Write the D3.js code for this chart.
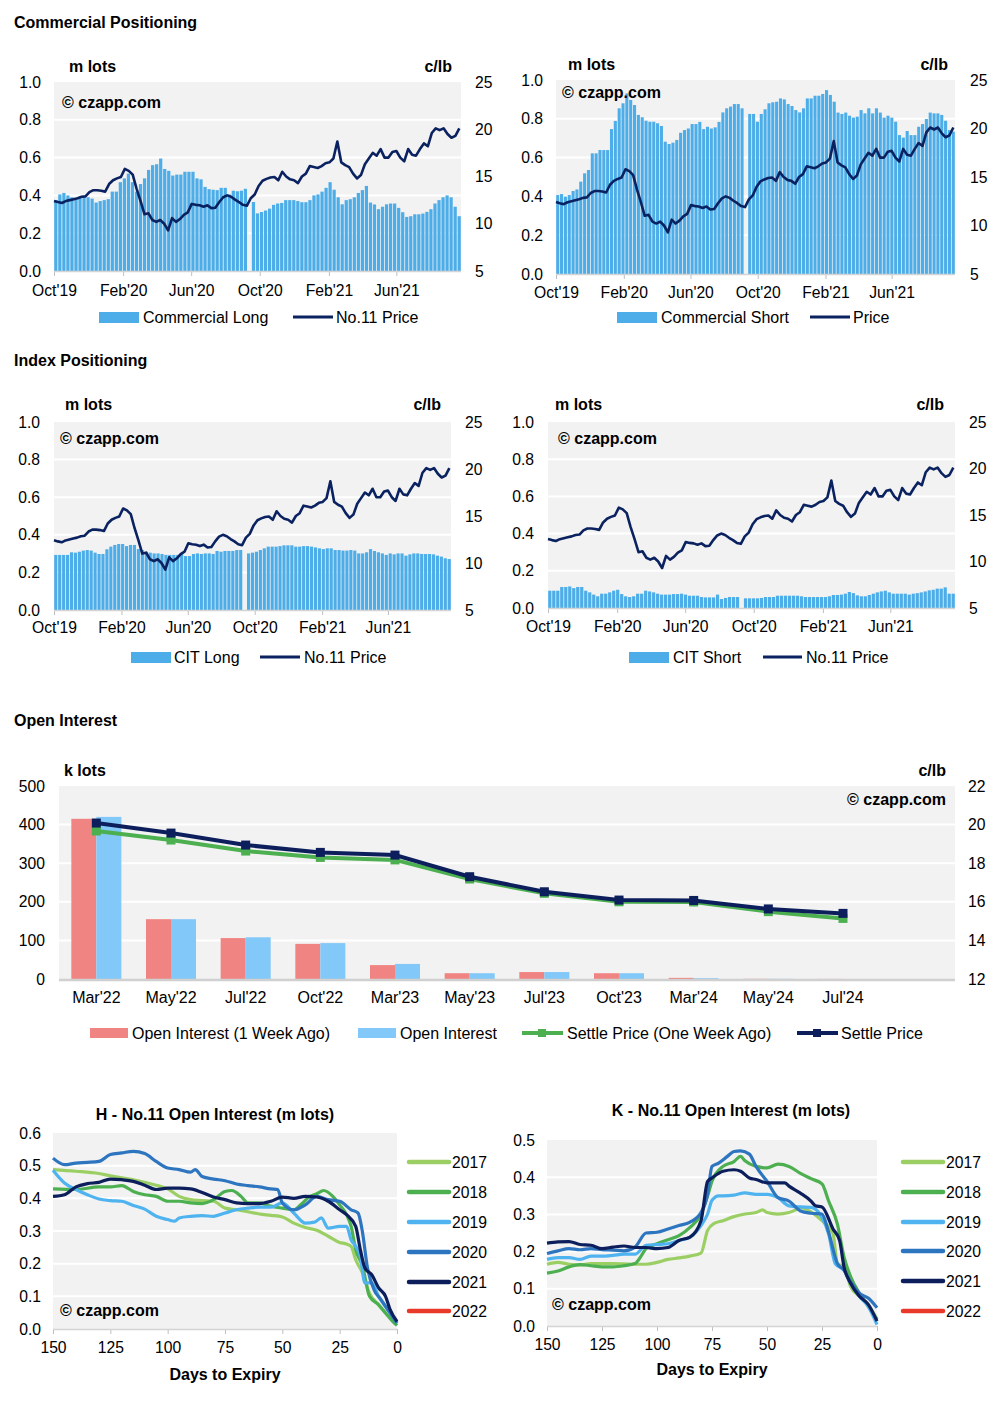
<!DOCTYPE html>
<html><head><meta charset="utf-8">
<script src="https://cdn.jsdelivr.net/npm/d3@7"></script>
<style>
body{margin:0;background:#fff;}
svg{display:block;font-family:"Liberation Sans",Arial,sans-serif;}
</style></head><body>
<svg id="c" width="1002" height="1402"></svg>
<script>
// ---------------- DATA ----------------
const posTickLabels = ["Oct'19","Feb'20","Jun'20","Oct'20","Feb'21","Jun'21"];
const posTickDates = ["2019-10-01","2020-02-01","2020-06-01","2020-10-01","2021-02-01","2021-06-01"];
const posDomain = ["2019-10-01","2021-09-24"];
const priceStart = "2019-10-01"; // weekly observations
const price = [12.42,12.3,12.2,12.4,12.5,12.6,12.7,12.85,12.9,13.35,13.55,13.55,13.5,13.4,14.2,14.6,14.8,14.95,15.8,15.6,
  15.2,13.7,12.4,11.0,11.1,10.4,10.2,10.4,10.0,9.3,10.6,10.2,10.5,10.95,11.2,12.1,12.0,11.95,11.8,11.95,
  11.65,11.7,12.3,12.8,13.0,12.85,12.55,12.3,12.0,11.9,12.7,13.1,14.0,14.55,14.75,14.9,14.95,14.6,15.5,15.0,
  14.7,14.6,14.3,15.0,15.3,16.1,16.0,15.9,16.1,16.4,16.5,16.9,18.7,16.5,16.2,16.0,15.3,14.8,15.15,16.3,
  16.9,17.5,17.2,17.9,17.0,17.0,17.6,17.7,17.0,16.6,17.9,17.3,17.2,17.9,18.5,18.2,19.6,20.1,19.9,20.1,
  19.5,19.1,19.3,20.1];
const commercialLong = [0.375,0.405,0.413,0.40,0.39,0.387,0.39,0.39,0.39,0.383,0.362,0.37,0.375,0.38,0.42,0.42,0.47,0.49,0.515,0.47,
  0.42,0.46,0.49,0.535,0.56,0.565,0.595,0.54,0.53,0.505,0.51,0.51,0.525,0.525,0.525,0.49,0.485,0.445,0.433,0.43,
  0.428,0.44,0.44,0.405,0.425,0.422,0.425,0.435,null,
  0.365,0.305,0.312,0.32,0.33,0.35,0.357,0.36,0.375,0.375,0.375,0.37,0.364,0.364,0.375,0.4,0.405,0.42,0.44,0.47,
  0.43,0.39,0.353,0.375,0.38,0.39,0.413,0.428,0.45,0.362,0.352,0.327,0.34,0.353,0.357,0.357,0.334,0.311,0.286,0.29,
  0.30,0.30,0.304,0.313,0.327,0.357,0.375,0.39,0.40,0.39,0.34,0.29];
const commercialShort = [0.407,0.412,0.399,0.407,0.428,0.436,0.476,0.519,0.536,0.622,0.622,0.639,0.639,0.639,0.747,0.789,0.854,0.88,0.931,0.897,
  0.871,0.82,0.808,0.79,0.785,0.785,0.777,0.763,0.682,0.67,0.677,0.691,0.728,0.742,0.75,0.773,0.773,0.784,0.747,0.759,
  0.75,0.756,0.784,0.833,0.854,0.863,0.876,0.876,0.854,null,
  0.825,0.825,0.785,0.825,0.849,0.88,0.885,0.888,0.905,0.9,0.876,0.866,0.845,0.833,0.854,0.905,0.905,0.919,0.919,0.928,
  0.948,0.923,0.888,0.832,0.825,0.832,0.816,0.806,0.811,0.845,0.828,0.854,0.828,0.854,0.832,0.806,0.816,0.806,0.785,0.716,
  0.703,0.737,0.716,0.716,0.759,0.773,0.799,0.832,0.828,0.828,0.82,0.79,0.742,0.734];
const citLong = [0.293,0.293,0.293,0.293,0.307,0.305,0.31,0.316,0.319,0.316,0.305,0.298,0.298,0.323,0.337,0.346,0.351,0.351,0.34,0.346,
  0.346,0.324,0.319,0.31,0.305,0.301,0.301,0.298,0.293,0.293,0.293,0.293,0.298,0.287,0.287,0.298,0.301,0.298,0.301,0.301,
  0.298,0.314,0.31,0.314,0.314,0.314,0.319,0.319,null,
  0.301,0.305,0.31,0.319,0.328,0.337,0.337,0.337,0.34,0.344,0.344,0.344,0.337,0.337,0.34,0.34,0.337,0.333,0.328,0.324,
  0.328,0.328,0.319,0.319,0.316,0.316,0.319,0.316,0.301,0.301,0.307,0.324,0.314,0.307,0.301,0.293,0.301,0.296,0.301,0.301,
  0.289,0.296,0.301,0.301,0.298,0.298,0.298,0.296,0.289,0.284,0.275,0.271];
const citShort = [0.093,0.093,0.093,0.113,0.113,0.116,0.107,0.113,0.113,0.093,0.084,0.072,0.063,0.077,0.077,0.084,0.093,0.098,0.075,0.063,
  0.059,0.063,0.077,0.077,0.093,0.089,0.084,0.077,0.072,0.072,0.072,0.075,0.075,0.077,0.072,0.066,0.066,0.066,0.059,0.057,
  0.057,0.057,0.072,0.048,0.054,0.059,0.059,0.059,null,
  0.052,0.052,0.052,0.052,0.054,0.059,0.059,0.059,0.066,0.066,0.066,0.066,0.066,0.066,0.063,0.059,0.059,0.059,0.059,0.059,
  0.059,0.063,0.07,0.07,0.072,0.077,0.086,0.08,0.068,0.063,0.063,0.07,0.077,0.084,0.089,0.093,0.084,0.077,0.077,0.077,
  0.077,0.072,0.077,0.08,0.084,0.089,0.095,0.098,0.104,0.104,0.111,0.077,0.077];

const oiCategories = ["Mar'22","May'22","Jul'22","Oct'22","Mar'23","May'23","Jul'23","Oct'23","Mar'24","May'24","Jul'24"];
const oiWeekAgo = [415,155,106,91,36,15,18,15,3,0.5,0.2];
const oiNow = [420,155,108,93,39,15,18,15,2,0.5,0];
const settleWeekAgo = [19.67,19.2,18.63,18.3,18.17,17.18,16.44,16.0,15.99,15.49,15.14];
const settleNow = [20.08,19.56,18.94,18.56,18.42,17.3,16.52,16.09,16.07,15.63,15.4];

const years = ["2017","2018","2019","2020","2021","2022"];
const yearColors = ["#9bcf63","#4caf50","#4fb3ef","#2e75c0","#0c1f5c","#e8392a"];
const h2017 = [[150,0.488],[140,0.483],[130,0.476],[125,0.469],[115,0.457],[105,0.44],[100,0.429],[95,0.406],[90,0.396],[85,0.393],[80,0.391],[75,0.37],[70,0.365],[65,0.359],[60,0.352],[55,0.348],[50,0.343],[45,0.324],[40,0.311],[35,0.302],[30,0.284],[25,0.265],[22,0.26],[20,0.253],[18,0.212],[15,0.171],[12,0.11],[8,0.074],[5,0.049],[2,0.029],[0,0.011]];
const h2018 = [[150,0.429],[140,0.427],[130,0.435],[125,0.435],[120,0.439],[115,0.421],[110,0.411],[105,0.406],[100,0.391],[95,0.391],[90,0.386],[85,0.384],[80,0.396],[75,0.421],[72,0.424],[68,0.406],[65,0.386],[60,0.386],[55,0.376],[50,0.37],[45,0.365],[42,0.38],[38,0.406],[35,0.414],[32,0.424],[28,0.406],[25,0.38],[22,0.35],[20,0.314],[18,0.243],[15,0.192],[12,0.1],[8,0.074],[5,0.049],[2,0.024],[0,0.011]];
const h2019 = [[150,0.486],[145,0.447],[140,0.427],[135,0.411],[130,0.398],[125,0.393],[120,0.391],[115,0.378],[110,0.367],[105,0.345],[100,0.335],[97,0.33],[95,0.34],[90,0.345],[85,0.347],[80,0.345],[75,0.355],[70,0.365],[65,0.37],[60,0.373],[55,0.373],[50,0.386],[45,0.355],[40,0.324],[36,0.327],[33,0.34],[30,0.309],[25,0.314],[22,0.314],[20,0.273],[18,0.253],[16,0.222],[14,0.141],[11,0.141],[8,0.1],[5,0.069],[2,0.039],[0,0.02]];
const h2020 = [[150,0.523],[145,0.503],[140,0.508],[135,0.51],[130,0.513],[125,0.534],[120,0.539],[115,0.544],[110,0.537],[105,0.513],[100,0.493],[95,0.488],[90,0.48],[88,0.488],[85,0.467],[80,0.459],[75,0.454],[70,0.444],[65,0.439],[60,0.435],[55,0.429],[52,0.427],[50,0.386],[45,0.365],[40,0.38],[35,0.406],[30,0.396],[25,0.391],[20,0.365],[17,0.355],[15,0.294],[13,0.192],[10,0.12],[7,0.09],[4,0.059],[2,0.039],[0,0.018]];
const h2021 = [[150,0.406],[145,0.411],[140,0.435],[135,0.445],[130,0.449],[125,0.459],[120,0.457],[115,0.452],[110,0.44],[105,0.427],[100,0.431],[95,0.431],[90,0.429],[85,0.418],[80,0.404],[75,0.396],[70,0.386],[65,0.384],[60,0.384],[55,0.391],[50,0.404],[45,0.4],[40,0.406],[35,0.404],[30,0.391],[25,0.365],[22,0.35],[18,0.314],[16,0.243],[14,0.187],[11,0.166],[8,0.126],[5,0.1],[3,0.059],[0,0.023]];
const k2017 = [[150,0.166],[145,0.171],[140,0.166],[135,0.164],[130,0.168],[120,0.168],[110,0.166],[105,0.166],[100,0.171],[95,0.179],[90,0.183],[85,0.188],[80,0.196],[77,0.257],[74,0.276],[70,0.283],[65,0.294],[60,0.301],[55,0.305],[52,0.312],[50,0.305],[45,0.301],[40,0.305],[37,0.312],[35,0.319],[30,0.307],[25,0.283],[20,0.248],[18,0.168],[15,0.159],[12,0.106],[8,0.08],[4,0.058],[0,0.018]];
const k2018 = [[150,0.142],[145,0.148],[140,0.159],[135,0.165],[130,0.162],[125,0.159],[120,0.159],[115,0.162],[110,0.168],[107,0.19],[105,0.208],[100,0.221],[95,0.232],[90,0.243],[85,0.265],[80,0.301],[77,0.35],[75,0.389],[70,0.429],[65,0.442],[62,0.456],[60,0.444],[55,0.429],[50,0.425],[45,0.435],[40,0.429],[35,0.411],[30,0.396],[25,0.382],[22,0.336],[18,0.274],[15,0.186],[12,0.133],[8,0.088],[4,0.053],[0,0.018]];
const k2019 = [[150,0.179],[145,0.184],[140,0.184],[135,0.179],[130,0.188],[125,0.188],[120,0.19],[115,0.193],[110,0.193],[105,0.217],[100,0.219],[95,0.221],[90,0.23],[85,0.239],[80,0.27],[77,0.301],[75,0.338],[72,0.35],[70,0.35],[65,0.352],[60,0.358],[55,0.354],[50,0.354],[45,0.345],[40,0.323],[35,0.32],[30,0.319],[25,0.292],[22,0.248],[19,0.168],[15,0.15],[12,0.115],[8,0.08],[4,0.053],[0,0.004]];
const k2020 = [[150,0.195],[145,0.202],[140,0.208],[135,0.205],[130,0.208],[125,0.205],[120,0.204],[115,0.202],[110,0.212],[105,0.25],[100,0.252],[95,0.261],[90,0.27],[85,0.279],[80,0.305],[77,0.354],[75,0.429],[72,0.438],[68,0.456],[65,0.469],[62,0.471],[58,0.462],[55,0.429],[50,0.389],[45,0.345],[40,0.336],[35,0.31],[30,0.303],[25,0.301],[22,0.252],[18,0.168],[15,0.15],[12,0.119],[8,0.088],[4,0.075],[0,0.049]];
const k2021 = [[150,0.223],[145,0.226],[140,0.227],[135,0.219],[130,0.217],[125,0.208],[120,0.212],[115,0.215],[110,0.211],[105,0.211],[100,0.208],[95,0.211],[90,0.23],[85,0.239],[80,0.283],[77,0.389],[75,0.398],[70,0.416],[65,0.42],[62,0.416],[58,0.398],[55,0.394],[50,0.385],[45,0.385],[42,0.385],[40,0.376],[35,0.358],[30,0.336],[28,0.323],[25,0.32],[20,0.261],[17,0.23],[15,0.159],[12,0.115],[8,0.08],[4,0.058],[0,0.013]];

// ---------------- STYLE ----------------
const BG = "#f2f2f2", BAR = "#4dade8", NAVY = "#0b2260", AXIS = "#d4d4d4", TXT = "#000";
const FS = 15.7;
const LFS = 16;
const svg = d3.select("#c");
const parse = d3.timeParse("%Y-%m-%d");

function text(g, x, y, s, o = {}) {
  return g.append("text").attr("x", x).attr("y", y).text(s)
    .attr("font-size", o.size || FS).attr("font-weight", o.bold ? "bold" : "normal")
    .attr("text-anchor", o.anchor || "start").attr("fill", o.fill || TXT);
}
function styleAxis(sel, size) {
  sel.selectAll("text").attr("font-size", size || FS).attr("fill", TXT)
    .attr("font-family", '"Liberation Sans",Arial,sans-serif');
  sel.selectAll("line").attr("stroke", "#bfbfbf");
  sel.select(".domain").remove();
}

// section titles
text(svg, 14, 28, "Commercial Positioning", { bold: true, size: 16 });
text(svg, 14, 366, "Index Positioning", { bold: true, size: 16 });
text(svg, 14, 726, "Open Interest", { bold: true, size: 16 });

// ---------------- POSITIONING PANELS ----------------
const priceDates = price.map((v, i) => d3.timeDay.offset(parse(priceStart), 7 * i));

function positioning(o) {
  const g = svg.append("g");
  const x = d3.scaleTime().domain(posDomain.map(parse)).range([o.left, o.right]);
  const y = d3.scaleLinear().domain([0, 1]).range([o.bottom, o.top]);
  const y2 = d3.scaleLinear().domain([5, 25]).range([o.bottom, o.top]);
  const xb = d3.scaleBand().domain(d3.range(o.bars.length)).range([o.left, o.right]).paddingInner(0.2).paddingOuter(0.05);

  g.append("rect").attr("x", o.left).attr("y", o.top).attr("width", o.right - o.left)
    .attr("height", o.bottom - o.top).attr("fill", BG);
  g.selectAll(".grid").data([0.2, 0.4, 0.6, 0.8]).join("line")
    .attr("x1", o.left).attr("x2", o.right).attr("y1", d => y(d)).attr("y2", d => y(d))
    .attr("stroke", "#fff").attr("stroke-width", 2);

  g.selectAll(".bar").data(o.bars.map((v, i) => ({ v, i })).filter(d => d.v != null)).join("rect")
    .attr("x", d => xb(d.i)).attr("width", xb.bandwidth())
    .attr("y", d => y(d.v)).attr("height", d => y(0) - y(d.v)).attr("fill", BAR);

  const la = g.append("g").attr("transform", `translate(${o.leftLabelX},0)`)
    .call(d3.axisLeft(y).tickValues([0, 0.2, 0.4, 0.6, 0.8, 1]).tickFormat(d3.format(".1f")).tickSize(0).tickPadding(0));
  styleAxis(la);
  const ra = g.append("g").attr("transform", `translate(${o.rightLabelX},0)`)
    .call(d3.axisRight(y2).tickValues([5, 10, 15, 20, 25]).tickSize(0).tickPadding(0));
  styleAxis(ra);
  const ba = g.append("g").attr("transform", `translate(0,${o.bottom})`)
    .call(d3.axisBottom(x).tickValues(posTickDates.map(parse)).tickFormat((d, i) => posTickLabels[i]).tickSize(5));
  styleAxis(ba);
  ba.selectAll("text").attr("y", o.tickBaseline - o.bottom).attr("dy", 0);
  g.append("line").attr("x1", o.left).attr("x2", o.right).attr("y1", o.bottom + 0.5).attr("y2", o.bottom + 0.5)
    .attr("stroke", AXIS).attr("stroke-width", 1.5);

  const line = d3.line().x((d, i) => x(priceDates[i])).y(d => y2(d));
  g.append("path").datum(price).attr("d", line).attr("fill", "none")
    .attr("stroke", NAVY).attr("stroke-width", 2.6).attr("stroke-linejoin", "round");

  text(g, o.mlots[0], o.mlots[1], "m lots", { bold: true, size: 16 });
  text(g, o.clb[0], o.clb[1], "c/lb", { bold: true, anchor: "end", size: 16 });
  text(g, o.wm[0], o.wm[1], "© czapp.com", { bold: true, size: 16 });

  const L = o.legend, ly = o.legendY;
  g.append("rect").attr("x", L.sw[0]).attr("y", ly - 5).attr("width", L.sw[1] - L.sw[0]).attr("height", 11).attr("fill", BAR);
  text(g, L.t1x, ly + 5.5, L.t1, { size: LFS });
  g.append("line").attr("x1", L.l[0]).attr("x2", L.l[1]).attr("y1", ly).attr("y2", ly).attr("stroke", NAVY).attr("stroke-width", 3);
  text(g, L.t2x, ly + 5.5, L.t2, { size: LFS });
}

positioning({ left: 54, right: 461, top: 82, bottom: 271, bars: commercialLong, leftLabelX: 41, rightLabelX: 475,
  mlots: [69, 72], clb: [452, 72], wm: [62, 108], tickBaseline: 296, legendY: 317,
  legend: { sw: [99, 139], t1x: 143, t1: "Commercial Long", l: [293, 333], t2x: 336, t2: "No.11 Price" } });
positioning({ left: 556, right: 955, top: 80, bottom: 274, bars: commercialShort, leftLabelX: 543, rightLabelX: 970,
  mlots: [568, 70], clb: [948, 70], wm: [562, 98], tickBaseline: 298, legendY: 317,
  legend: { sw: [617, 657], t1x: 661, t1: "Commercial Short", l: [810, 850], t2x: 853, t2: "Price" } });
positioning({ left: 54, right: 451, top: 422, bottom: 610, bars: citLong, leftLabelX: 40, rightLabelX: 465,
  mlots: [65, 410], clb: [441, 410], wm: [60, 444], tickBaseline: 633, legendY: 657,
  legend: { sw: [131, 171], t1x: 174, t1: "CIT Long", l: [260, 300], t2x: 304, t2: "No.11 Price" } });
positioning({ left: 548, right: 955, top: 422, bottom: 608, bars: citShort, leftLabelX: 534, rightLabelX: 969,
  mlots: [555, 410], clb: [944, 410], wm: [558, 444], tickBaseline: 632, legendY: 657,
  legend: { sw: [629, 669], t1x: 673, t1: "CIT Short", l: [763, 802], t2x: 806, t2: "No.11 Price" } });

// ---------------- OPEN INTEREST ----------------
(function () {
  const g = svg.append("g");
  const L = 59, R = 955, T = 786, B = 979;
  const slots = oiCategories.concat([""]);
  const x = d3.scaleBand().domain(slots).range([L, R]);
  const bw = x.bandwidth();
  const xs = d3.scaleBand().domain(["prev", "now"]).range([bw * 0.165, bw * 0.835]);
  const y = d3.scaleLinear().domain([0, 500]).range([B, T]);
  const y2 = d3.scaleLinear().domain([12, 22]).range([B, T]);

  g.append("rect").attr("x", L).attr("y", T).attr("width", R - L).attr("height", B - T).attr("fill", BG);
  g.selectAll(".grid").data([100, 200, 300, 400]).join("line")
    .attr("x1", L).attr("x2", R).attr("y1", d => y(d)).attr("y2", d => y(d)).attr("stroke", "#fff").attr("stroke-width", 2);

  g.selectAll(".b1").data(oiCategories).join("rect")
    .attr("x", d => x(d) + xs("prev")).attr("width", xs.bandwidth())
    .attr("y", (d, i) => y(oiWeekAgo[i])).attr("height", (d, i) => B - y(oiWeekAgo[i])).attr("fill", "#f08482");
  g.selectAll(".b2").data(oiCategories).join("rect")
    .attr("x", d => x(d) + xs("now")).attr("width", xs.bandwidth())
    .attr("y", (d, i) => y(oiNow[i])).attr("height", (d, i) => B - y(oiNow[i])).attr("fill", "#82c8f8");

  g.append("line").attr("x1", L).attr("x2", R).attr("y1", B + 1).attr("y2", B + 1).attr("stroke", "#d0d0d0").attr("stroke-width", 2.5);

  const la = g.append("g").attr("transform", "translate(45,0)")
    .call(d3.axisLeft(y).tickValues([0, 100, 200, 300, 400, 500]).tickSize(0).tickPadding(0));
  styleAxis(la);
  const ra = g.append("g").attr("transform", "translate(968,0)")
    .call(d3.axisRight(y2).tickValues([12, 14, 16, 18, 20, 22]).tickSize(0).tickPadding(0));
  styleAxis(ra);
  const ba = g.append("g").attr("transform", `translate(0,${B})`)
    .call(d3.axisBottom(x).tickValues(oiCategories).tickSize(0));
  styleAxis(ba, 16);
  ba.selectAll("text").attr("y", 24).attr("dy", 0);

  const cx = d => x(d) + bw / 2;
  function series(vals, color) {
    const ln = d3.line().x((d, i) => cx(oiCategories[i])).y(d => y2(d));
    g.append("path").datum(vals).attr("d", ln).attr("fill", "none").attr("stroke", color).attr("stroke-width", 4);
    g.selectAll(null).data(vals).join("rect")
      .attr("x", (d, i) => cx(oiCategories[i]) - 4.5).attr("y", d => y2(d) - 4.5)
      .attr("width", 9).attr("height", 9).attr("fill", color);
  }
  series(settleWeekAgo, "#4caf50");
  series(settleNow, "#0c1f5c");

  text(g, 64, 776, "k lots", { bold: true, size: 16 });
  text(g, 946, 776, "c/lb", { bold: true, anchor: "end", size: 16 });
  text(g, 946, 805, "© czapp.com", { bold: true, size: 16, anchor: "end" });

  const ly = 1033;
  g.append("rect").attr("x", 90).attr("y", ly - 5).attr("width", 38).attr("height", 10).attr("fill", "#f08482");
  text(g, 132, ly + 5.5, "Open Interest (1 Week Ago)", { size: LFS });
  g.append("rect").attr("x", 358).attr("y", ly - 5).attr("width", 38).attr("height", 10).attr("fill", "#82c8f8");
  text(g, 400, ly + 5.5, "Open Interest", { size: LFS });
  g.append("line").attr("x1", 522).attr("x2", 563).attr("y1", ly).attr("y2", ly).attr("stroke", "#4caf50").attr("stroke-width", 4);
  g.append("rect").attr("x", 538).attr("y", ly - 4).attr("width", 8).attr("height", 8).attr("fill", "#4caf50");
  text(g, 567, ly + 5.5, "Settle Price (One Week Ago)", { size: LFS });
  g.append("line").attr("x1", 797).attr("x2", 838).attr("y1", ly).attr("y2", ly).attr("stroke", "#0c1f5c").attr("stroke-width", 4);
  g.append("rect").attr("x", 813).attr("y", ly - 4).attr("width", 8).attr("height", 8).attr("fill", "#0c1f5c");
  text(g, 841, ly + 5.5, "Settle Price", { size: LFS });
})();

// ---------------- DAYS TO EXPIRY PANELS ----------------
function expiry(o) {
  const g = svg.append("g");
  const x = d3.scaleLinear().domain([150, 0]).range([o.left, o.right]);
  const y = d3.scaleLinear().domain([0, o.ymax]).range([o.bottom, o.top]);
  g.append("rect").attr("x", o.left).attr("y", o.top).attr("width", o.right - o.left).attr("height", o.bottom - o.top).attr("fill", BG);
  const gridVals = d3.range(1, Math.round(o.ymax * 10)).map(d => d / 10);
  g.selectAll(".grid").data(gridVals).join("line")
    .attr("x1", o.left).attr("x2", o.right).attr("y1", d => y(d)).attr("y2", d => y(d)).attr("stroke", "#fff").attr("stroke-width", 2);

  const la = g.append("g").attr("transform", `translate(${o.leftLabelX},0)`)
    .call(d3.axisLeft(y).tickValues(d3.range(0, Math.round(o.ymax * 10) + 1).map(d => d / 10)).tickFormat(d3.format(".1f")).tickSize(0).tickPadding(0));
  styleAxis(la);
  const ba = g.append("g").attr("transform", `translate(0,${o.bottom})`)
    .call(d3.axisBottom(x).tickValues([150, 125, 100, 75, 50, 25, 0]).tickSize(5));
  styleAxis(ba);
  ba.selectAll("text").attr("y", o.tickBaseline - o.bottom).attr("dy", 0);
  g.append("line").attr("x1", o.left).attr("x2", o.right).attr("y1", o.bottom + 0.5).attr("y2", o.bottom + 0.5).attr("stroke", AXIS).attr("stroke-width", 1.5);

  const ln = d3.line().x(d => x(d[0])).y(d => y(d[1])).curve(d3.curveMonotoneX);
  o.series.forEach((s, i) => {
    if (!s) return;
    g.append("path").datum(s).attr("d", ln).attr("fill", "none").attr("stroke", yearColors[i])
      .attr("stroke-width", 3.2).attr("stroke-linejoin", "round");
  });

  text(g, o.titleX, o.titleY, o.title, { bold: true, anchor: "middle", size: 16 });
  text(g, o.xlabX, o.xlabY, "Days to Expiry", { bold: true, anchor: "middle", size: 16 });
  text(g, o.wm[0], o.wm[1], "© czapp.com", { bold: true, size: 16 });
  years.forEach((yr, i) => {
    const yy = o.legendY[i];
    g.append("line").attr("x1", o.legendX).attr("x2", o.legendX + 40).attr("y1", yy).attr("y2", yy)
      .attr("stroke", yearColors[i]).attr("stroke-width", 4.5).attr("stroke-linecap", "round");
    text(g, o.legendX + 43, yy + 5.5, yr);
  });
}
expiry({ left: 53, right: 397, top: 1133, bottom: 1329, ymax: 0.6, leftLabelX: 41, tickBaseline: 1353,
  series: [h2017, h2018, h2019, h2020, h2021, null],
  title: "H - No.11 Open Interest (m lots)", titleX: 215, titleY: 1120, xlabX: 225, xlabY: 1380, wm: [60, 1316],
  legendX: 409, legendY: [1162, 1192, 1222, 1252, 1282, 1311] });
expiry({ left: 547, right: 877, top: 1140, bottom: 1326, ymax: 0.5, leftLabelX: 535, tickBaseline: 1350,
  series: [k2017, k2018, k2019, k2020, k2021, null],
  title: "K - No.11 Open Interest (m lots)", titleX: 731, titleY: 1116, xlabX: 712, xlabY: 1375, wm: [552, 1310],
  legendX: 903, legendY: [1162, 1192, 1222, 1251, 1281, 1311] });
</script>
</body></html>
